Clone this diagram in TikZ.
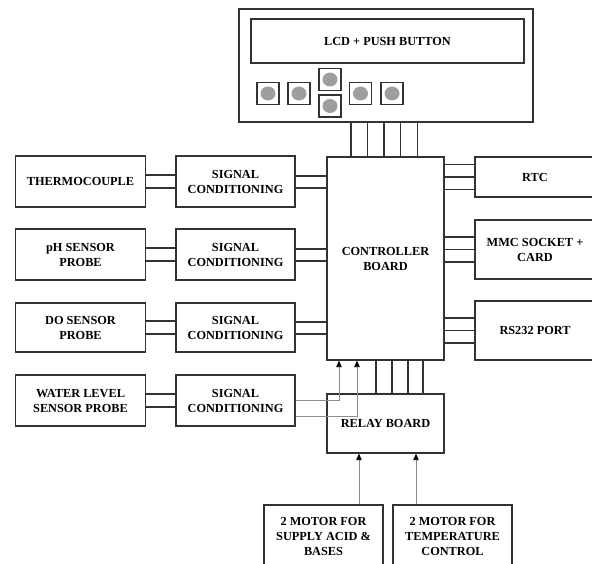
\documentclass[tikz,border=0pt]{standalone}
\usepackage{fontspec}
\setmainfont{Liberation Serif}
\usepackage{tikz}
\usetikzlibrary{arrows.meta,positioning,fit}

\tikzset{
    blockbox/.style={draw=black!80, line width=1.2pt, font=\bfseries\fontsize{12.3}{15}\selectfont, align=center, inner sep=0pt},
    wire/.style={draw=black!80, line width=1.1pt},
    feed/.style={draw=black!45, line width=0.8pt, -{Triangle[width=5.5pt,length=6.5pt,color=black]}},
    pushbtn/.style={draw=black!80, line width=1.1pt, minimum size=22pt, inner sep=0pt,
        path picture={\fill[black!38] (path picture bounding box.center) ellipse (7.5pt and 7pt);}}
}

\begin{document}
\begin{tikzpicture}[x=1pt, y=-1pt]
    \useasboundingbox (0,0) rectangle (592,564);
    \clip (0,0) rectangle (592,564);

    % LCD panel with push buttons
    \node[blockbox, minimum width=294pt, minimum height=113pt] (lcd_panel) at (386,65.5) {};
    \node[blockbox, minimum width=273pt, minimum height=44pt] (lcd_screen) at (387.5,41) {LCD + PUSH BUTTON};
    \node[pushbtn] (btn_a) at (268,93.5) {};
    \node[pushbtn] (btn_b) at (299,93.5) {};
    \node[pushbtn] (btn_up) at (330,79.5) {};
    \node[pushbtn] (btn_down) at (330,106) {};
    \node[pushbtn] (btn_c) at (360.5,93.5) {};
    \node[pushbtn] (btn_d) at (392,93.5) {};

    % Controller and relay board
    \node[blockbox, minimum width=117pt, minimum height=203pt] (controller) at (385.5,258.5) {CONTROLLER\\BOARD};
    \node[blockbox, minimum width=117pt, minimum height=59pt] (relay) at (385.5,423.5) {RELAY BOARD};

    % Sensors
    \node[blockbox, minimum width=130pt, minimum height=51pt] (thermo) at (80.5,181.5) {THERMOCOUPLE};
    \node[blockbox, minimum width=130pt, minimum height=51pt] (ph_probe) at (80.5,254.5) {pH SENSOR\\PROBE};
    \node[blockbox, minimum width=130pt, minimum height=49pt] (do_probe) at (80.5,327.5) {DO SENSOR\\PROBE};
    \node[blockbox, minimum width=130pt, minimum height=51pt] (level_probe) at (80.5,400.5) {WATER LEVEL\\SENSOR PROBE};

    % Signal conditioning
    \node[blockbox, minimum width=119pt, minimum height=51pt] (sc_thermo) at (235.5,181.5) {SIGNAL\\CONDITIONING};
    \node[blockbox, minimum width=119pt, minimum height=51pt] (sc_ph) at (235.5,254.5) {SIGNAL\\CONDITIONING};
    \node[blockbox, minimum width=119pt, minimum height=49pt] (sc_do) at (235.5,327.5) {SIGNAL\\CONDITIONING};
    \node[blockbox, minimum width=119pt, minimum height=51pt] (sc_level) at (235.5,400.5) {SIGNAL\\CONDITIONING};

    % Peripherals
    \node[blockbox, minimum width=120pt, minimum height=40pt] (rtc) at (535,177) {RTC};
    \node[blockbox, minimum width=120pt, minimum height=59pt] (mmc) at (535,249.5) {MMC SOCKET +\\CARD};
    \node[blockbox, minimum width=120pt, minimum height=59pt] (rs232) at (535,330.5) {RS232 PORT};

    % Motors
    \node[blockbox, minimum width=119pt, minimum height=62pt] (motor_acid) at (323.5,536) {2 MOTOR FOR\\SUPPLY ACID \&\\BASES};
    \node[blockbox, minimum width=119pt, minimum height=62pt] (motor_temp) at (452.5,536) {2 MOTOR FOR\\TEMPERATURE\\CONTROL};

    % Bus lines
    \foreach \dx in {-35,-18.5,-2,14.5,31.5}
        \draw[wire] ([xshift=\dx pt]lcd_panel.south) -- ([xshift=\dx pt]lcd_panel.south |- controller.north);
    \foreach \dx in {-9.5,6.5,22.5,37.5}
        \draw[wire] ([xshift=\dx pt]controller.south) -- ([xshift=\dx pt]controller.south |- relay.north);

    \foreach \src/\dst in {thermo/sc_thermo, ph_probe/sc_ph, do_probe/sc_do, level_probe/sc_level}
        \foreach \dy in {-6.5,6.5}
            \draw[wire] ([yshift=\dy pt]\src.east) -- ([yshift=\dy pt]\src.east -| \dst.west);
    \foreach \src in {sc_thermo, sc_ph, sc_do}
        \foreach \dy in {-6.5,5.5}
            \draw[wire] ([yshift=\dy pt]\src.east) -- ([yshift=\dy pt]\src.east -| controller.west);

    \foreach \dst in {rtc, mmc, rs232}
        \foreach \dy in {-12.5,0,12.5}
            \draw[wire] ([yshift=\dy pt]\dst.west) -- ([yshift=\dy pt]\dst.west -| controller.east);

    % Water level feedback into controller
    \draw[feed] ([yshift=0.5pt]sc_level.east) -| ([xshift=-46.5pt]controller.south);
    \draw[feed] ([yshift=-15.5pt]sc_level.east) -| ([xshift=-28.5pt]controller.south);

    % Motors into relay board
    \draw[feed] ([xshift=35.5pt]motor_acid.north) -- ([xshift=35.5pt]motor_acid.north |- relay.south);
    \draw[feed] ([xshift=-36.5pt]motor_temp.north) -- ([xshift=-36.5pt]motor_temp.north |- relay.south);
\end{tikzpicture}
\end{document}
